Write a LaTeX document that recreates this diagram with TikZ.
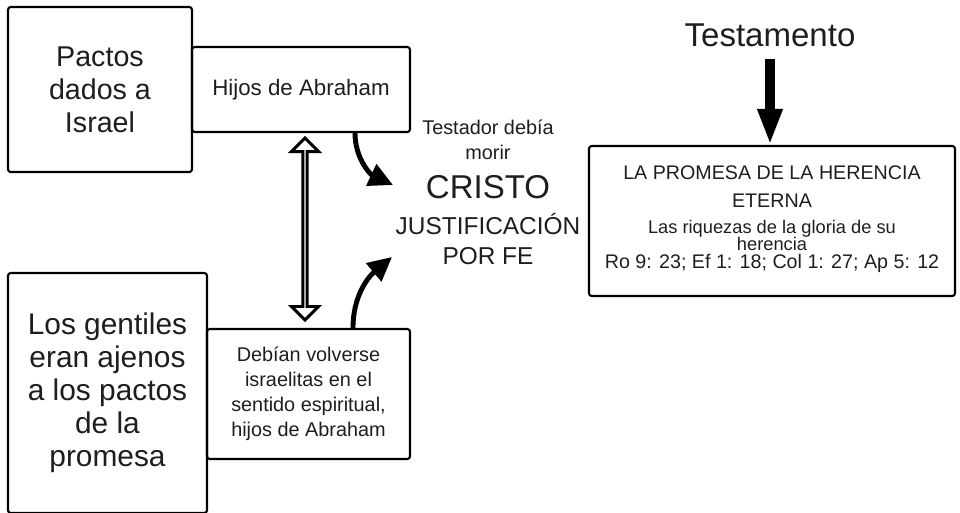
\documentclass[tikz,border=0pt]{standalone}
\usepackage{fontspec}
\setmainfont{Liberation Sans}
\usepackage{xcolor}
\definecolor{pactInk}{RGB}{30, 30, 30}
\usepackage{tikz}
\usetikzlibrary{
    arrows.meta,
    shapes.arrows,
    positioning
}

\begin{document}
\begin{tikzpicture}[
    x=0.02cm, y=-0.02cm,
    pactBox/.style={
        rectangle, rounded corners=1.5pt,
        draw=black, line width=1.2pt,
        text=pactInk, align=center, inner sep=0pt
    },
    freeText/.style={
        text=pactInk, align=center, inner sep=0pt
    },
    curveArrow/.style={
        -{Triangle[length=0.48cm, width=0.46cm]}, line width=2.8pt, draw=black
    },
    heavyArrow/.style={
        -{Triangle[length=0.72cm, width=0.46cm]}, line width=5.6pt, draw=black
    },
    hollowArrow/.style={
        double arrow, shape border rotate=90, draw=black, line width=1.7pt,
        fill=white, inner sep=0pt,
        minimum height=3.64cm, minimum width=0.54cm,
        double arrow head extend=0.16cm
    }
]

    \useasboundingbox (0,0) rectangle (960,512);

    % Boxes on the left
    \node[pactBox, minimum width=3.68cm, minimum height=3.3cm,
          font=\fontsize{16.3}{18.8}\selectfont] (pactos) at (100,89.5)
          {Pactos\\dados a\\Israel};
    \node[pactBox, minimum width=4.36cm, minimum height=1.7cm,
          font=\fontsize{12.7}{15}\selectfont] (hijos) at (301,89.5)
          {Hijos de Abraham};
    \node[pactBox, minimum width=3.98cm, minimum height=4.8cm,
          font=\fontsize{17}{18.8}\selectfont] (gentiles) at (107.5,393)
          {Los gentiles\\eran ajenos\\a los pactos\\de la\\promesa};
    \node[pactBox, minimum width=4.06cm, minimum height=2.6cm,
          font=\fontsize{11.3}{14.2}\selectfont] (debian) at (308.5,394)
          {Debían volverse\\israelitas en el\\sentido espiritual,\\hijos de Abraham};

    % Centre texts
    \node[freeText, font=\fontsize{11.3}{14.2}\selectfont] (testador) at (488,140)
          {Testador debía\\morir};
    \node[freeText, font=\fontsize{18.8}{20}\selectfont] (cristo) at (488,187) {CRISTO};
    \node[freeText, font=\fontsize{13.9}{17}\selectfont] (justif) at (488,239)
          {JUSTIFICACIÓN\\POR FE};

    % Promise box
    \node[freeText, font=\fontsize{18.8}{20}\selectfont] (testamento) at (770,35) {Testamento};
    \node[pactBox, minimum width=7.32cm, minimum height=3.0cm,
          font=\fontsize{11.2}{16}\selectfont] (herencia) at (772,221)
          {LA PROMESA DE LA HERENCIA\\ETERNA\\[-1.2pt]
           {\fontsize{10.4}{16}\selectfont Las riquezas de la gloria de su}\\[-6.6pt]
           {\fontsize{10.4}{16}\selectfont herencia}\\[-5.6pt]
           Ro 9: 23; Ef 1: 18; Col 1: 27; Ap 5: 12\\[-11.4pt]\mbox{}};

    % Arrows
    \coordinate (tipTop) at (393,185);
    \coordinate (tipLow) at (392,257);
    \node[hollowArrow] (link) at (305,229) {};
    \draw[curveArrow] ([xshift=1.08cm]hijos.south) to[out=-90, in=155] (tipTop);
    \draw[curveArrow] ([xshift=0.89cm]debian.north) to[out=90, in=-140] (tipLow);
    \draw[heavyArrow, shorten <=0.24cm] (testamento.south) -- (testamento.south |- herencia.north);

\end{tikzpicture}
\end{document}
